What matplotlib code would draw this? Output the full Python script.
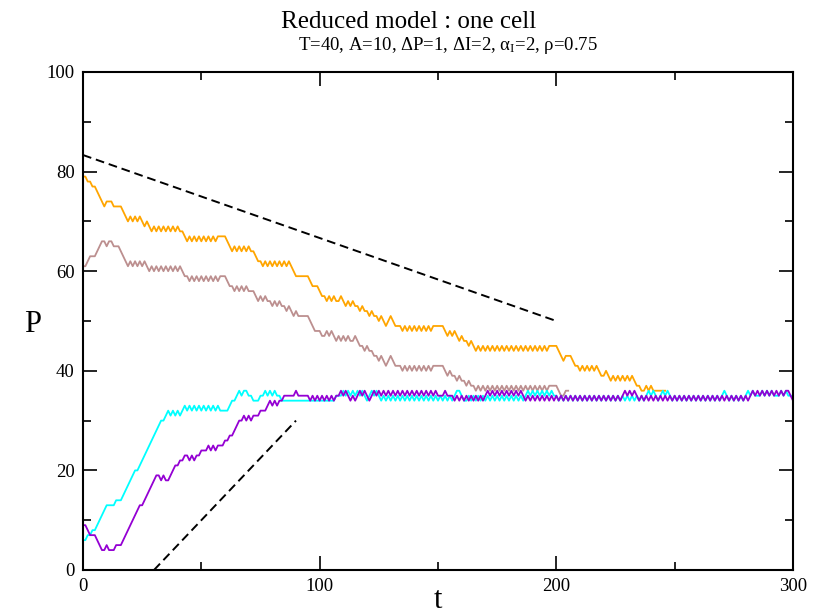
import numpy as np
import matplotlib
matplotlib.use("Agg")
import matplotlib.pyplot as plt

plt.rcParams['font.family'] = ['Liberation Serif', 'DejaVu Serif']
plt.rcParams['mathtext.fontset'] = 'custom'
plt.rcParams['mathtext.rm'] = 'Liberation Serif'
plt.rcParams['mathtext.it'] = 'Liberation Serif:italic'

# P(t) for the four runs, one value per time step
p_orange = [
    79, 79, 78, 78, 77, 77, 76, 75, 74, 73,
    74, 74, 74, 73, 73, 73, 73, 72, 71, 70,
    71, 70, 71, 70, 71, 70, 69, 70, 69, 68,
    69, 68, 69, 68, 69, 68, 69, 68, 69, 68,
    69, 68, 68, 67, 66, 67, 66, 67, 66, 67,
    66, 67, 66, 67, 66, 67, 66, 67, 67, 67,
    67, 66, 65, 64, 65, 64, 65, 64, 65, 64,
    65, 64, 64, 63, 62, 62, 61, 62, 61, 62,
    61, 62, 61, 62, 61, 62, 61, 62, 61, 60,
    59, 59, 59, 59, 59, 59, 58, 57, 57, 57,
    56, 55, 55, 54, 55, 54, 55, 54, 54, 55,
    54, 53, 54, 53, 54, 53, 53, 52, 53, 52,
    52, 51, 52, 51, 51, 50, 51, 50, 49, 50,
    51, 50, 49, 49, 49, 48, 49, 48, 49, 48,
    49, 48, 49, 48, 49, 48, 49, 48, 49, 49,
    49, 49, 49, 48, 47, 48, 47, 48, 47, 46,
    47, 46, 46, 45, 46, 45, 44, 45, 44, 45,
    44, 45, 44, 45, 44, 45, 44, 45, 44, 45,
    44, 45, 44, 45, 44, 45, 44, 45, 44, 45,
    44, 45, 44, 45, 44, 45, 44, 45, 45, 45,
    45, 44, 43, 42, 43, 43, 43, 42, 41, 41,
    40, 41, 40, 41, 40, 41, 40, 41, 40, 39,
    39, 40, 39, 38, 39, 38, 39, 38, 39, 38,
    39, 38, 39, 38, 37, 37, 36, 36, 37, 36,
    37, 36, 36, 36, 36, 36, 36,
]

p_brown = [
    61, 61, 62, 63, 63, 63, 64, 65, 66, 66,
    65, 66, 66, 65, 65, 65, 64, 63, 62, 61,
    62, 61, 62, 61, 62, 61, 62, 61, 60, 61,
    60, 61, 60, 61, 60, 61, 60, 61, 60, 61,
    60, 61, 60, 59, 59, 58, 59, 58, 59, 58,
    59, 58, 59, 58, 59, 58, 59, 58, 59, 59,
    59, 58, 57, 57, 56, 57, 56, 57, 56, 57,
    56, 56, 56, 55, 54, 55, 54, 55, 54, 54,
    53, 54, 53, 54, 53, 53, 52, 53, 52, 51,
    52, 51, 51, 51, 51, 51, 50, 49, 48, 48,
    48, 47, 47, 48, 47, 48, 47, 46, 47, 46,
    47, 46, 47, 46, 46, 47, 46, 45, 45, 44,
    45, 44, 44, 43, 43, 42, 43, 42, 41, 42,
    43, 42, 41, 41, 41, 40, 41, 40, 41, 40,
    41, 40, 41, 40, 41, 40, 41, 40, 41, 41,
    41, 41, 41, 40, 39, 40, 39, 39, 38, 39,
    38, 38, 37, 38, 37, 37, 36, 37, 36, 37,
    36, 37, 36, 37, 36, 37, 36, 37, 36, 37,
    36, 37, 36, 37, 36, 37, 36, 37, 36, 37,
    36, 37, 36, 37, 36, 37, 36, 37, 37, 37,
    37, 36, 35, 35, 36, 36,
]

p_cyan = [
    6, 6, 7, 7, 8, 8, 9, 10, 11, 12,
    13, 13, 13, 13, 14, 14, 14, 15, 16, 17,
    18, 19, 20, 20, 21, 22, 23, 24, 25, 26,
    27, 28, 29, 30, 30, 31, 32, 31, 32, 31,
    32, 31, 32, 33, 32, 33, 32, 33, 32, 33,
    32, 33, 32, 33, 32, 33, 32, 33, 32, 32,
    32, 32, 33, 34, 34, 35, 36, 35, 36, 36,
    35, 35, 34, 34, 34, 35, 35, 36, 35, 36,
    35, 36, 35, 35, 34, 34, 34, 34, 34, 34,
    34, 34, 34, 34, 34, 34, 34, 34, 34, 34,
    34, 34, 34, 34, 34, 34, 34, 35, 35, 35,
    36, 35, 36, 35, 36, 35, 36, 35, 36, 35,
    34, 35, 36, 35, 36, 35, 34, 35, 34, 35,
    34, 35, 34, 35, 34, 35, 34, 35, 34, 35,
    34, 35, 34, 35, 34, 35, 34, 35, 34, 35,
    34, 35, 34, 35, 34, 35, 34, 35, 36, 36,
    35, 34, 34, 35, 34, 35, 34, 35, 34, 35,
    34, 35, 34, 35, 34, 35, 34, 35, 34, 35,
    34, 35, 34, 35, 34, 35, 34, 35, 36, 35,
    36, 35, 36, 35, 36, 35, 36, 35, 36, 35,
    35, 34, 35, 34, 35, 34, 35, 34, 35, 34,
    35, 34, 35, 34, 35, 34, 35, 34, 35, 34,
    35, 34, 35, 34, 35, 34, 35, 34, 35, 34,
    35, 34, 35, 34, 35, 34, 35, 34, 35, 36,
    35, 36, 35, 34, 35, 36, 35, 36, 35, 34,
    35, 34, 35, 34, 35, 34, 35, 34, 35, 34,
    35, 34, 35, 34, 35, 34, 35, 34, 35, 34,
    35, 36, 35, 34, 35, 34, 35, 34, 35, 34,
    35, 36, 35, 36, 35, 35, 35, 36, 35, 36,
    35, 36, 35, 35, 35, 36, 35, 36, 35, 35,
    35,
]

p_violet = [
    9, 9, 8, 7, 7, 7, 6, 5, 4, 4,
    5, 4, 4, 4, 5, 5, 5, 6, 7, 8,
    9, 10, 11, 12, 13, 13, 14, 15, 16, 17,
    18, 19, 19, 18, 19, 18, 18, 19, 20, 21,
    21, 22, 22, 23, 23, 22, 23, 22, 23, 23,
    24, 24, 24, 25, 24, 25, 24, 25, 25, 25,
    26, 26, 27, 27, 28, 29, 30, 30, 31, 30,
    31, 30, 31, 31, 31, 32, 32, 32, 33, 34,
    33, 34, 33, 34, 34, 35, 35, 35, 35, 35,
    36, 35, 35, 35, 35, 35, 34, 35, 34, 35,
    34, 35, 34, 35, 34, 35, 34, 35, 35, 36,
    35, 36, 35, 34, 35, 34, 35, 36, 35, 36,
    35, 34, 35, 36, 35, 36, 35, 36, 35, 36,
    35, 36, 35, 36, 35, 36, 35, 36, 35, 36,
    35, 36, 35, 36, 35, 36, 35, 36, 35, 36,
    35, 35, 35, 36, 35, 35, 35, 34, 35, 34,
    35, 34, 35, 34, 35, 34, 35, 34, 35, 34,
    35, 36, 35, 36, 35, 36, 35, 36, 35, 36,
    35, 36, 35, 36, 35, 36, 35, 34, 35, 34,
    35, 34, 35, 34, 35, 34, 35, 34, 35, 34,
    35, 34, 35, 34, 35, 34, 35, 34, 35, 34,
    35, 34, 35, 34, 35, 34, 35, 34, 35, 34,
    35, 34, 35, 34, 35, 34, 35, 34, 35, 36,
    35, 36, 35, 36, 35, 34, 35, 34, 35, 34,
    35, 34, 35, 34, 35, 34, 35, 34, 35, 34,
    35, 34, 35, 34, 35, 34, 35, 34, 35, 34,
    35, 34, 35, 34, 35, 34, 35, 34, 35, 34,
    35, 34, 35, 34, 35, 34, 35, 34, 35, 34,
    35, 34, 35, 36, 35, 36, 35, 36, 35, 36,
    35, 36, 35, 36, 35, 36, 35, 36, 36, 35,
    34,
]

# guide lines (t, P end points)
guide_down_t = [0, 200]
guide_down_p = [83.33, 50]
guide_up_t = [30, 90]
guide_up_p = [0, 30]

series = [
    (p_orange, '#FFA500'),
    (p_brown, '#BC8F8F'),
    (p_cyan, '#00FFFF'),
    (p_violet, '#9400D3'),
]

fig = plt.figure(figsize=(8.16, 6.16), dpi=100)
ax = fig.add_axes([83 / 816, 1 - 570 / 616, 710 / 816, 498 / 616])

for vals, col in series:
    t = np.arange(len(vals))
    ax.plot(t, vals, color=col, lw=1.3)

dash = (0, (4.5, 2.5))
ax.plot(guide_down_t, guide_down_p, color='black', lw=1.4, ls=dash)
ax.plot(guide_up_t, guide_up_p, color='black', lw=1.4, ls=dash)

ax.set_xlim(0, 300)
ax.set_ylim(0, 100)
ax.set_xticks([0, 100, 200, 300])
ax.set_xticks([50, 150, 250], minor=True)
ax.set_yticks(np.arange(0, 101, 20))
ax.set_yticks(np.arange(10, 100, 20), minor=True)
ax.tick_params(which='both', direction='in', top=True, right=True,
               width=1.2, labelsize=13.5, pad=6)
ax.tick_params(which='major', length=10)
ax.tick_params(which='minor', length=5.5)
for s in ax.spines.values():
    s.set_linewidth(1.5)

fig.text(0.501, 0.965, 'Reduced model : one cell', ha='center', va='center',
         fontsize=18)
fig.text(0.549, 0.926,
         'T=40, A=10, ΔP=1, ΔI=2, α$_\\mathrm{I}$=2, ρ=0.75',
         ha='center', va='center', fontsize=13.5)
fig.text(33 / 816, 1 - 325 / 616, 'P', ha='center', va='center', fontsize=22)
fig.text(438 / 816, 1 - 600 / 616, 't', ha='center', va='center', fontsize=22)

fig.savefig('out.png', dpi=100)
